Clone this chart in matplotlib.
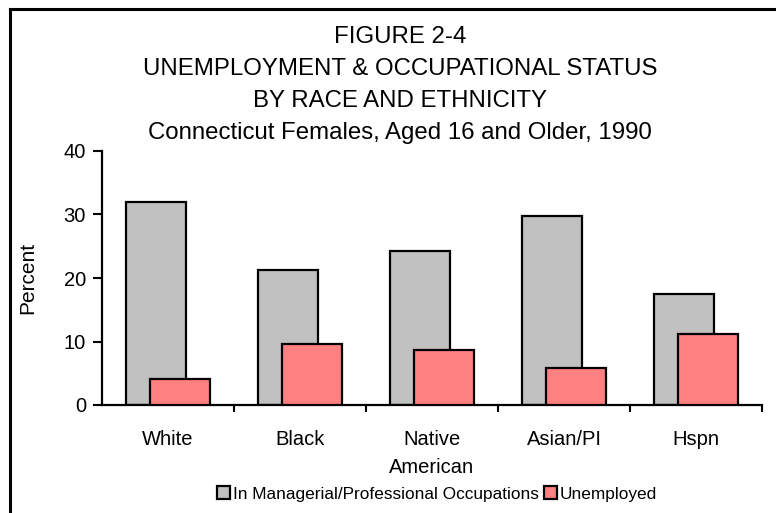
import numpy as np
import matplotlib.pyplot as plt
from matplotlib.lines import Line2D
from matplotlib.patches import Patch

plt.rcParams['font.family'] = ['Liberation Sans', 'DejaVu Sans']

groups = ['White', 'Black', 'Native\nAmerican', 'Asian/PI', 'Hspn']
managerial = [32.0, 21.3, 24.3, 29.7, 17.5]
unemployed = [4.1, 9.6, 8.7, 5.9, 11.2]

fig = plt.figure(figsize=(7.76, 5.13), dpi=100)
ax = fig.add_axes([102 / 776, 1 - 405 / 513, 660 / 776, 254 / 513])

x = np.arange(len(groups))
w = 0.455
off = 0.091
ax.bar(x - off, managerial, w, color='#C0C0C0', edgecolor='black', linewidth=1.6, zorder=2)
ax.bar(x + off, unemployed, w, color='#FF8080', edgecolor='black', linewidth=1.6, zorder=3)

ax.set_xlim(-0.5, len(groups) - 0.5)
ax.set_ylim(0, 40)
ax.set_yticks([0, 10, 20, 30, 40])
ax.set_xticks(x)
ax.set_xticklabels(groups, fontsize=14.5, linespacing=1.6)
ax.set_xticks(np.arange(0.5, len(groups)), minor=True)
ax.tick_params(axis='x', which='major', length=0, pad=18)
ax.tick_params(axis='x', which='minor', length=5, width=1.5, direction='out')
ax.tick_params(axis='y', length=6.5, width=1.5, direction='out', labelsize=14.5, pad=5)
for s in ['top', 'right']:
    ax.spines[s].set_visible(False)
for s in ['left', 'bottom']:
    ax.spines[s].set_linewidth(1.6)
ax.set_ylabel('Percent', fontsize=15)
ax.yaxis.set_label_coords(-65 / 660, 0.5)

titles = ['FIGURE 2-4', 'UNEMPLOYMENT & OCCUPATIONAL STATUS',
          'BY RACE AND ETHNICITY', 'Connecticut Females, Aged 16 and Older, 1990']
for i, t in enumerate(titles):
    fig.text(400 / 776, 1 - (43 + 32 * i) / 513, t, ha='center', va='baseline', fontsize=17.3)

handles = [Patch(facecolor='#C0C0C0', edgecolor='black', linewidth=1.6),
           Patch(facecolor='#FF8080', edgecolor='black', linewidth=1.6)]
fig.legend(handles, ['In Managerial/Professional Occupations', 'Unemployed'],
           loc='center', bbox_to_anchor=(437 / 776, 1 - 494 / 513), ncol=2, frameon=False,
           fontsize=12.4, handlelength=0.75, handleheight=0.75, handletextpad=0.15,
           columnspacing=0.3, borderpad=0)

# frame lines along the top and left edge
fig.add_artist(Line2D([10 / 776, 10 / 776], [0, 1 - 9 / 513], color='black', linewidth=2.2))
fig.add_artist(Line2D([10 / 776, 1], [1 - 9 / 513, 1 - 9 / 513], color='black', linewidth=2.2))

fig.savefig('out.png', dpi=100)
